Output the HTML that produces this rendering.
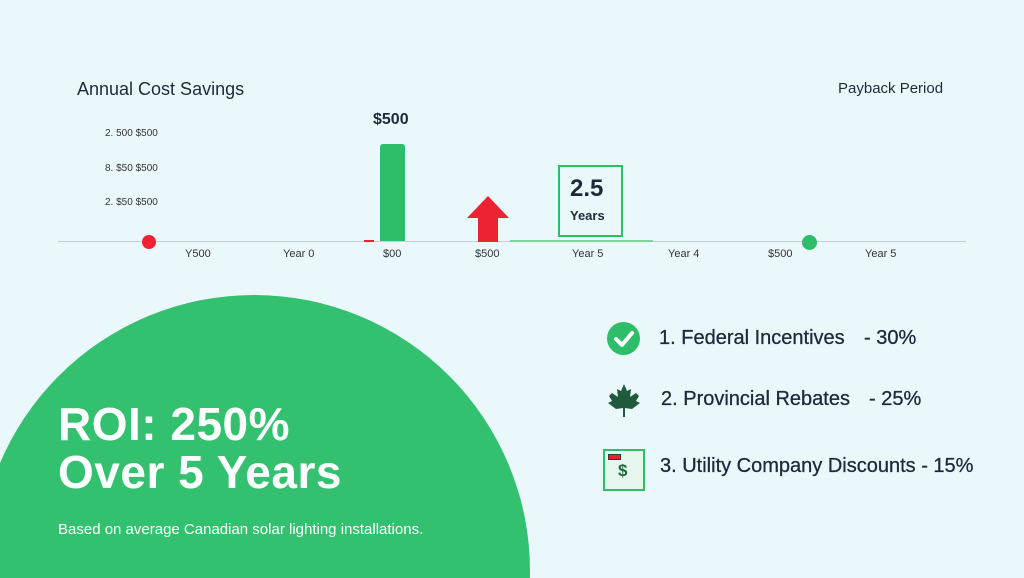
<!DOCTYPE html>
<html style="margin:0;width:1024px;height:578px;overflow:hidden"><head><style>
body{margin:0;width:1024px;height:578px;overflow:hidden;background:#eaf8fc;font-family:"Liberation Sans",sans-serif;color:#1d2a3a}
#w{position:relative;width:1024px;height:578px;overflow:hidden}
.a{position:absolute;white-space:nowrap}
.t{font-size:11px;color:#333}
.y{font-size:10px;color:#333}
.r{font-size:20px;font-weight:500;-webkit-text-stroke:0.3px #1d2a3a}
</style></head><body><div id="w">
<svg class="a" style="left:0;top:0" width="1024" height="578"><circle cx="254" cy="571" r="276" fill="#33c170"/></svg>
<div class="a" style="left:77px;top:79px;font-size:18px">Annual Cost Savings</div>
<div class="a" style="left:838px;top:80px;font-size:15px">Payback Period</div>
<div class="a" style="left:373px;top:111px;font-size:16px;font-weight:bold">$500</div>
<div class="a y" style="left:105px;top:128px">2. 500 $500</div>
<div class="a y" style="left:105px;top:163px">8. $50 $500</div>
<div class="a y" style="left:105px;top:197px">2. $50 $500</div>
<div class="a" style="left:58px;top:241px;width:908px;height:1px;background:#c5d0d6"></div>
<div class="a" style="left:142px;top:235px;width:14px;height:14px;border-radius:50%;background:#ee2233"></div>
<div class="a" style="left:364px;top:240px;width:10px;height:2px;background:#ee2233"></div>
<div class="a" style="left:380px;top:144px;width:25px;height:97px;border-radius:3px 3px 0 0;background:#2ebd68"></div>
<svg class="a" style="left:466px;top:196px" width="44" height="46"><polygon points="22,0 43,22 32,22 32,46 12,46 12,22 1,22" fill="#ee2233"/></svg>
<div class="a" style="left:510px;top:240px;width:143px;height:2px;background:#7ed49a"></div>
<div class="a" style="left:558px;top:165px;width:61px;height:68px;border:2px solid #2ebd68;background:#eaf8fc"></div>
<div class="a" style="left:570px;top:175px;font-size:24px;font-weight:bold">2.5</div>
<div class="a" style="left:570px;top:208px;font-size:13px;font-weight:bold">Years</div>
<div class="a" style="left:802px;top:235px;width:15px;height:15px;border-radius:50%;background:#2ebd68"></div>
<div class="a t" style="left:185px;top:248px">Y500</div>
<div class="a t" style="left:283px;top:248px">Year 0</div>
<div class="a t" style="left:383px;top:248px">$00</div>
<div class="a t" style="left:475px;top:248px">$500</div>
<div class="a t" style="left:572px;top:248px">Year 5</div>
<div class="a t" style="left:668px;top:248px">Year 4</div>
<div class="a t" style="left:768px;top:248px">$500</div>
<div class="a t" style="left:865px;top:248px">Year 5</div>
<div class="a" style="left:58px;top:400px;font-size:46px;font-weight:bold;color:#fff;line-height:48px;letter-spacing:0.5px">ROI: 250%<br>Over 5 Years</div>
<div class="a" style="left:58px;top:521px;font-size:15px;color:#fff">Based on average Canadian solar lighting installations.</div>
<div class="a" style="left:607px;top:322px;width:33px;height:33px;border-radius:50%;background:#2ebd68"><svg width="33" height="33"><polyline points="9,17 15,23 25,11" fill="none" stroke="#fff" stroke-width="4" stroke-linecap="round" stroke-linejoin="round"/></svg></div>
<svg class="a" style="left:606px;top:382px" width="36" height="36"><path d="M18 2 L21 9 L25 7 L24 15 L30 11 L33 14 L30 19 L34 21 L26 27 L19 26 L19 35 L17 35 L17 26 L10 27 L2 21 L6 19 L3 14 L6 11 L12 15 L11 7 L15 9 Z" fill="#1f5a3c"/></svg>
<div class="a" style="left:603px;top:449px;width:38px;height:38px;border:2px solid #2ebd68;background:#e6f8ee"><div class="a" style="left:3px;top:3px;width:11px;height:4px;background:#e22;border:1px solid #334"></div><div class="a" style="left:13px;top:10px;font-size:17px;font-weight:bold;color:#1f6a3c">$</div></div>
<div class="a r" style="left:659px;top:327px">1. Federal Incentives</div><div class="a r" style="left:864px;top:327px">- 30%</div>
<div class="a r" style="left:661px;top:388px">2. Provincial Rebates</div><div class="a r" style="left:869px;top:388px">- 25%</div>
<div class="a r" style="left:660px;top:455px">3. Utility Company Discounts - 15%</div>
</div></body></html>
